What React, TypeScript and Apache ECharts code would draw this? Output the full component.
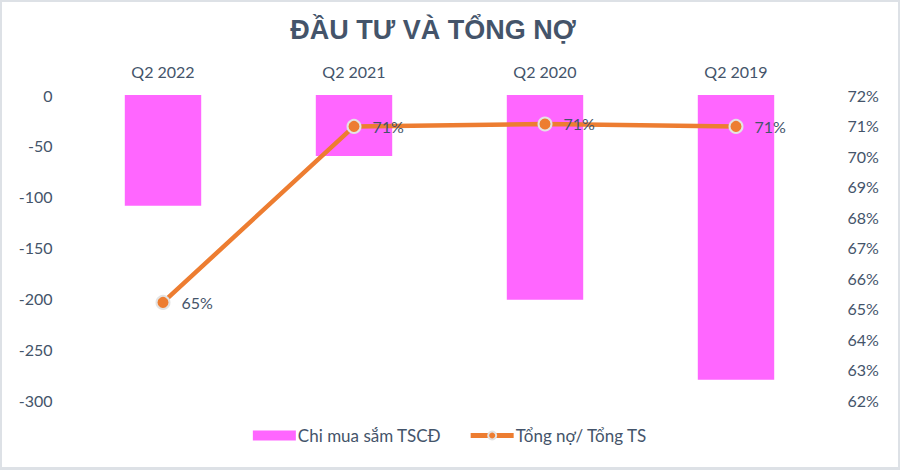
import React, { useEffect, useRef } from "react";
import * as echarts from "echarts";

const categories = ["Q2 2022", "Q2 2021", "Q2 2020", "Q2 2019"];
const capexValues = [-109, -60, -201.5, -280];
const debtRatioValues = [65.2, 70.97, 71.05, 70.97];
const leftTicks = { min: -300, max: 0, interval: 50 };
const rightTicks = { min: 62, max: 72, interval: 1 };
const seriesNames = ["Chi mua sắm TSCĐ", "Tổng nợ/ Tổng TS"];
const titleText = "ĐẦU TƯ VÀ TỔNG NỢ";

const TEXT = "#44546a";
const FONT = "Lato, 'Noto Sans', sans-serif";

export default function App() {
  const ref = useRef<HTMLDivElement>(null);
  useEffect(() => {
    document.body.style.margin = "0";
    if (!ref.current) return;
    const chart = echarts.init(ref.current, undefined, { renderer: "svg" });
    chart.setOption({
      animation: false,
      backgroundColor: "#ffffff",
      textStyle: { fontFamily: FONT },
      title: {
        text: titleText,
        left: 428,
        textAlign: "center",
        top: 11,
        textStyle: {
          fontFamily: "'Liberation Sans', Arial, sans-serif",
          fontWeight: "bold",
          fontSize: 27,
          color: TEXT,
        },
      },
      legend: {
        bottom: 21,
        left: "center",
        itemWidth: 43,
        itemHeight: 10,
        itemGap: 27,
        textStyle: { color: TEXT, fontSize: 17, fontFamily: FONT, padding: [0, 0, 0, -3] },
        data: [
          { name: seriesNames[0], icon: "rect" },
          { name: seriesNames[1], lineStyle: { width: 5, color: "#ed7d31" } },
        ],
      },
      grid: { left: 67.5, right: 68.5, top: 95, bottom: 70 },
      xAxis: {
        type: "category",
        position: "top",
        data: categories,
        axisLine: { show: false },
        axisTick: { show: false },
        axisLabel: { color: TEXT, fontSize: 16, fontFamily: FONT, margin: 16 },
      },
      yAxis: [
        {
          type: "value",
          min: leftTicks.min,
          max: leftTicks.max,
          interval: leftTicks.interval,
          axisLine: { show: false },
          axisTick: { show: false },
          splitLine: { show: false },
          axisLabel: { color: TEXT, fontSize: 16, fontFamily: FONT, margin: 15 },
        },
        {
          type: "value",
          min: rightTicks.min,
          max: rightTicks.max,
          interval: rightTicks.interval,
          axisLine: { show: false },
          axisTick: { show: false },
          splitLine: { show: false },
          axisLabel: { color: TEXT, fontSize: 16, fontFamily: FONT, margin: 16, formatter: "{value}%" },
        },
      ],
      series: [
        {
          name: seriesNames[0],
          type: "bar",
          data: capexValues,
          barWidth: "40%",
          itemStyle: { color: "#ff66ff" },
        },
        {
          name: seriesNames[1],
          type: "line",
          yAxisIndex: 1,
          data: debtRatioValues,
          symbol: "circle",
          symbolSize: 13,
          lineStyle: { color: "#ed7d31", width: 4.5 },
          itemStyle: { color: "#ed7d31", borderColor: "#e3e3e3", borderWidth: 2 },
          label: {
            show: true,
            position: "right",
            distance: 11,
            color: TEXT,
            fontSize: 16,
            fontFamily: FONT,
            formatter: (p: any) => Math.round(p.value) + "%",
          },
          z: 3,
        },
      ],
    });
    return () => chart.dispose();
  }, []);
  return (
    <div style={{ position: "relative", width: 900, height: 470 }}>
      <div ref={ref} style={{ position: "absolute", left: 0, top: 0, width: 900, height: 470 }} />
      <div
        style={{
          position: "absolute",
          left: 0,
          top: 0,
          width: 900,
          height: 470,
          boxSizing: "border-box",
          border: "2px solid #dde1e6",
          borderBottomWidth: 3,
          pointerEvents: "none",
        }}
      />
    </div>
  );
}
